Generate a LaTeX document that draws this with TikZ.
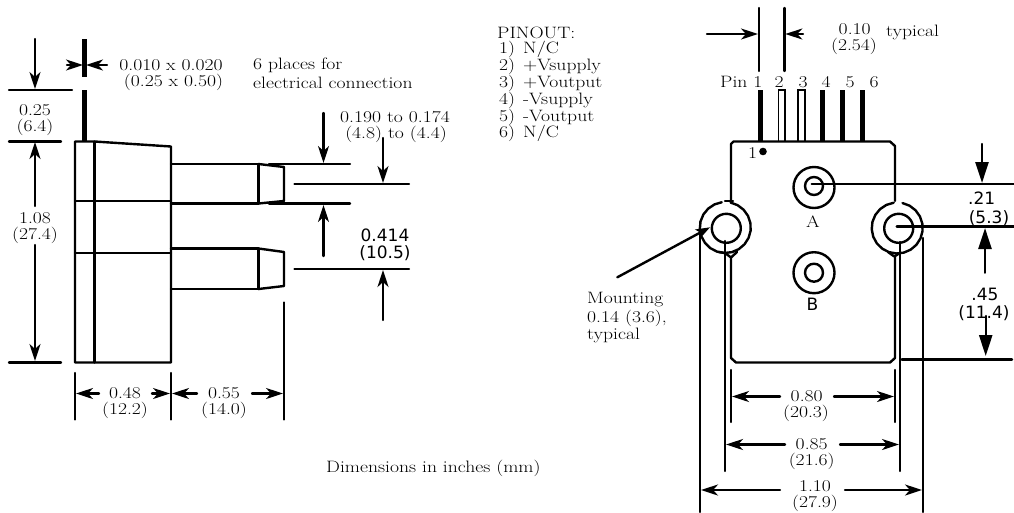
\documentclass[tikz,border=0pt]{standalone}
\usepackage{fontspec}
\newfontfamily\dvs{DejaVu Sans}
\newfontfamily\wideserif[FakeStretch=1.19]{Latin Modern Roman}
\newcommand{\pinno}[1]{\makebox[24pt][l]{#1}}
\usetikzlibrary{arrows.meta}
\tikzset{
 x=1pt,y=-1pt,
 ln/.style={line width=2.4pt,line cap=round,line join=round},
 dim/.style={ln,-{Stealth[length=17pt,width=11pt,inset=5pt]}},
 bigdim/.style={ln,-{Triangle[length=21pt,width=13pt]}},
 pin/.style={fill=black},
 holl/.style={line width=1.6pt},
 txt/.style={font=\wideserif\fontsize{16.5}{16.5}\selectfont,inner sep=0pt},
 sans/.style={font=\dvs\fontsize{17}{17}\selectfont,inner sep=0pt},
}
\begin{document}
\begin{tikzpicture}
\useasboundingbox (0,0) rectangle (1014,512);
% left view
\coordinate (d1a) at (35,39); \coordinate (d1b) at (35,89);
\draw[dim] (d1a) -- (d1b);
\draw[ln] (9,90) -- (72,90);
\draw[ln] (9,141.5) -- (61,141.5);
\draw[ln] (9,362.5) -- (61,362.5);
\draw[dim] (35,206) -- (35,142);
\draw[dim] (35,245) -- (35,361);
\fill[pin] (82,39) rectangle (87,77);
\fill[pin] (82,90) rectangle (87,141);
\draw[dim] (67,65) -- (83,65);
\draw[dim] (107,65) -- (86,65);
\node[txt] at (171,65.5) {0.010 x 0.020};
\node[txt] at (173.5,82.5) {(0.25 x 0.50)};
\node[txt,anchor=west] at (253,65.5) {6 places for};
\node[txt,anchor=west] at (253,82.5) {electrical connection};
\node[txt] at (35,110) {0.25};
\node[txt] at (35,127.5) {(6.4)};
\node[txt] at (35,218.5) {1.08};
\node[txt] at (35,235.5) {(27.4)};
% body
\draw[ln] (75,141.5) -- (94.5,141.5) -- (171,146.5) -- (171,362.5) -- (75,362.5) -- cycle;
\draw[ln] (94.5,141.5) -- (94.5,362.5);
\draw[ln] (75,201) -- (171,201);
\draw[ln] (75,252.7) -- (171,252.7);
% ports
\draw[ln] (171,164) -- (258.5,164);
\draw[ln] (171,203.5) -- (258.5,203.5);
\draw[ln] (258.5,164) -- (258.5,203.5);
\draw[ln] (258.5,164) -- (284,167) -- (284,201) -- (258.5,203.5);
\draw[ln] (269,164) -- (350,164);
\draw[ln] (269,203.5) -- (350,203.5);
\draw[ln] (294.5,184) -- (409,184);
\draw[ln] (171,248.5) -- (258.5,248.5);
\draw[ln] (171,289) -- (258.5,289);
\draw[ln] (258.5,248.5) -- (258.5,289);
\draw[ln] (258.5,248.5) -- (284,252) -- (284,286) -- (258.5,289);
\draw[ln] (294.5,269) -- (409,269);
\draw[dim] (323.5,113) -- (323.5,163);
\draw[dim] (323.5,256) -- (323.5,205);
\draw[dim] (383,138) -- (383,183);
\draw[dim] (383,320) -- (383,270);
\node[txt] at (395,117) {0.190 to 0.174};
\node[txt] at (396,134) {(4.8) to (4.4)};
\node[sans] at (385,235) {0.414};
\node[sans] at (385,253) {(10.5)};
\draw[ln] (284,302.5) -- (284,419.5);
\draw[ln] (75,373) -- (75,419.5);
\draw[ln] (171,373) -- (171,419.5);
\draw[dim] (99,393.5) -- (76,393.5);
\draw[dim] (152,393.5) -- (170,393.5);
\draw[dim] (197,393.5) -- (172,393.5);
\draw[dim] (252,393.5) -- (283,393.5);
\node[txt] at (125,393.5) {0.48};
\node[txt] at (125,410.5) {(12.2)};
\node[txt] at (224,393.5) {0.55};
\node[txt] at (224,410.5) {(14.0)};
\node[txt,anchor=west] at (326,468) {Dimensions in inches (mm)};
% pinout
\node[txt,anchor=west] at (497,32.5) {PINOUT:};
\node[txt,anchor=west] at (499,49.5) {\pinno{1)}N/C};
\node[txt,anchor=west] at (499,66) {\pinno{2)}+Vsupply};
\node[txt,anchor=west] at (499,83) {\pinno{3)}+Voutput};
\node[txt,anchor=west] at (499,100) {\pinno{4)}-Vsupply};
\node[txt,anchor=west] at (499,117) {\pinno{5)}-Voutput};
\node[txt,anchor=west] at (499,133.5) {\pinno{6)}N/C};
% right view
\draw[ln] (759,8) -- (759,71);
\draw[ln] (784.3,8) -- (784.3,71);
\draw[dim] (707,34) -- (758,34);
\draw[dim] (803,34) -- (785.3,34);
\node[txt] at (854.7,29) {0.10};
\node[txt] at (854,46) {(2.54)};
\node[txt,anchor=west] at (886,32) {typical};
\node[txt,anchor=west] at (720,82) {Pin 1};
\node[txt] at (779,82) {2};
\node[txt] at (803,82) {3};
\node[txt] at (826,82) {4};
\node[txt] at (850,82) {5};
\node[txt] at (874,82) {6};
\fill[pin] (757.5,89.5) rectangle (762.5,141);
\draw[holl] (778.5,141) -- (778.5,90) -- (785,90) -- (785,141);
\draw[holl] (798.2,141) -- (798.2,90) -- (805,90) -- (805,141);
\fill[pin] (820.2,89.5) rectangle (825.2,141);
\fill[pin] (839.8,89.5) rectangle (844.8,141);
\fill[pin] (859.8,89.5) rectangle (864.8,141);
% body outline
\draw[ln] (731,201) -- (731,144) -- (733.5,141.5) -- (890,141.5) -- (895,146) -- (895,201);
\draw[ln] (725,201) -- (733,201);
\draw[ln] (731,258) -- (731,358) -- (736,362.5) -- (890,362.5) -- (895,358) -- (895,256);
\fill (763,151.5) circle (3.8);
\node[txt] at (752.7,153.5) {1};
\node[txt] at (813,222) {A};
\node[sans] at (812.5,304) {B};
% ports
\draw[ln] (814,187.5) circle (20.5);
\draw[ln] (814,186) circle (9);
\draw[ln] (814,272.7) circle (20.5);
\draw[ln] (814,272.7) circle (9);
% mounts
\draw[ln] plot[samples=21,domain=-78:262] ({725.3+25.5*cos(\x)},{227.5+25.5*sin(\x)});
\draw[ln] (718.7,252) -- (725,253) -- (731,257.5) -- (737,252);
\draw[ln] (726.3,228.3) circle (14.5);
\draw[ln] plot[samples=21,domain=-78:262] ({897.2+25.5*cos(\x)},{228+25.5*sin(\x)});
\draw[ln] (888,252) -- (894.3,256.5) -- (900,253);
\draw[ln] (898.7,228.3) circle (14.5);
% extension lines
\draw[ln] (725,241) -- (725,471);
\draw[ln] (900,242) -- (900,471);
\draw[ln] (699.7,222) -- (699.7,512);
\draw[ln] (923,238) -- (923,512);
\draw[ln] (811.7,184) -- (1014,184);
\draw[ln] (896.7,226.4) -- (1014,226.4);
\draw[ln] (901.7,359.3) -- (1012,359.3);
\draw[bigdim] (982,144) -- (982,183);
\draw[bigdim] (985,272.7) -- (985,228);
\draw[bigdim] (985.7,316) -- (985.7,356);
\node[sans] at (981.7,198) {.21};
\node[sans] at (989,218) {(5.3)};
\node[sans] at (985,294) {.45};
\node[sans] at (984,313) {(11.4)};
\draw[ln] (731,370) -- (731,422);
\draw[ln] (895,370) -- (895,422);
\draw[dim] (780,396.5) -- (732,396.5);
\draw[dim] (834,396.5) -- (894,396.5);
\node[txt] at (806.7,396.5) {0.80};
\node[txt] at (806,413.5) {(20.3)};
\draw[dim] (785,444.5) -- (726,444.5);
\draw[dim] (840,444.5) -- (899,444.5);
\node[txt] at (811.7,444.5) {0.85};
\node[txt] at (811.7,461.5) {(21.6)};
\draw[dim] (780,490) -- (701,490);
\draw[dim] (845,490) -- (922,490);
\node[txt] at (815,486.5) {1.10};
\node[txt] at (815,503.5) {(27.9)};
\draw[ln,-{Stealth[length=14pt,width=10pt,inset=3pt]}] (617.3,277.3) -- (710,227.3);
\node[txt,anchor=west] at (587,300) {Mounting};
\node[txt,anchor=west] at (587,318) {0.14 (3.6),};
\node[txt,anchor=west] at (587,335) {typical};
\end{tikzpicture}
\end{document}
